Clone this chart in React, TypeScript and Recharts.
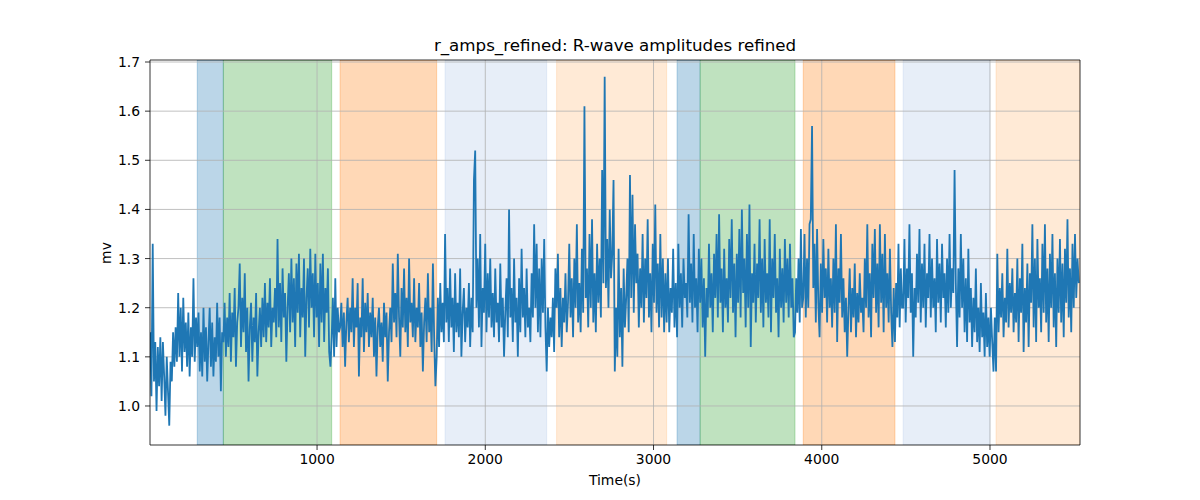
import { CartesianGrid, Line, LineChart, ReferenceArea, XAxis, YAxis } from 'recharts';

// R-wave amplitudes (mV), one list per stretch of the recording
const ampsPre = [1.15, 1.02, 1.33, 1.05, 1.13, 0.99, 1.12, 1.04, 1.14, 1.01, 1.13, 1.06, 0.98, 1.1, 1.03, 0.96, 1.09, 1.05, 1.15, 1.08, 1.16, 1.09, 1.23, 1.1, 1.2, 1.07, 1.22, 1.11, 1.17, 1.08, 1.19, 1.06, 1.16, 1.1, 1.26, 1.09, 1.18];
const ampsBlue1 = [1.12, 1.19, 1.07, 1.15, 1.06, 1.2, 1.09, 1.16, 1.05, 1.13, 1.2, 1.08, 1.17, 1.06, 1.14, 1.09, 1.21, 1.1, 1.18, 1.03, 1.15];
const ampsGreen1 = [
  1.13, 1.21, 1.1, 1.18, 1.12, 1.23, 1.09, 1.19, 1.14, 1.24, 1.08, 1.17, 1.2, 1.29, 1.12, 1.22, 1.15, 1.27, 1.11, 1.2, 1.05, 1.16,
  1.21, 1.09, 1.18, 1.13, 1.23, 1.06, 1.15, 1.2, 1.12, 1.22, 1.14, 1.25, 1.13, 1.21, 1.16, 1.26, 1.12, 1.2, 1.17, 1.24, 1.14, 1.34,
  1.16, 1.25, 1.13, 1.28, 1.18, 1.23, 1.09, 1.2, 1.27, 1.15, 1.3, 1.17, 1.26, 1.12, 1.29, 1.19, 1.31, 1.14, 1.24, 1.18, 1.3, 1.1,
  1.22, 1.28, 1.16, 1.32, 1.2, 1.27, 1.14, 1.31, 1.18, 1.25, 1.12, 1.29, 1.17, 1.31, 1.13, 1.24, 1.19, 1.28, 1.11, 1.08,
];
const ampsGap1 = [1.14, 1.22, 1.1, 1.26, 1.12, 1.2, 1.15];
const ampsOrange1 = [
  1.16, 1.21, 1.12, 1.19, 1.08, 1.17, 1.22, 1.13, 1.2, 1.15, 1.26, 1.12, 1.2, 1.16, 1.25, 1.06, 1.18, 1.14, 1.26, 1.11, 1.21, 1.15,
  1.23, 1.12, 1.19, 1.14, 1.22, 1.1, 1.18, 1.06, 1.16, 1.2, 1.12, 1.17, 1.09, 1.21, 1.14, 1.19, 1.05, 1.15, 1.2, 1.13, 1.29, 1.17,
  1.23, 1.14, 1.31, 1.18, 1.1, 1.24, 1.16, 1.28, 1.15, 1.22, 1.12, 1.3, 1.17, 1.21, 1.14, 1.26, 1.13, 1.2, 1.16, 1.25, 1.12, 1.19,
  1.07, 1.17, 1.22, 1.13, 1.27, 1.15, 1.2, 1.11, 1.29, 1.14, 1.04,
];
const ampsGap2 = [1.1, 1.22, 1.12, 1.25, 1.15, 1.21, 1.13];
const ampsLightBlue1 = [
  1.35, 1.17, 1.24, 1.13, 1.28, 1.16, 1.22, 1.11, 1.27, 1.15, 1.21, 1.14, 1.28, 1.1, 1.19, 1.24, 1.13, 1.2, 1.16, 1.25, 1.12, 1.22,
  1.15, 1.46, 1.52, 1.2, 1.3, 1.16, 1.35, 1.12, 1.24, 1.19, 1.33, 1.15, 1.27, 1.18, 1.3, 1.16, 1.23, 1.14, 1.28, 1.17, 1.21, 1.13,
  1.29, 1.16, 1.22, 1.1, 1.19, 1.26, 1.14, 1.4, 1.18, 1.24, 1.13, 1.3, 1.17, 1.22, 1.1, 1.26, 1.15, 1.32, 1.18, 1.24, 1.14, 1.28,
  1.16, 1.2, 1.13, 1.27, 1.18, 1.37, 1.2, 1.33, 1.15, 1.28, 1.14, 1.3, 1.19, 1.34, 1.16,
];
const ampsGap3 = [1.07, 1.2, 1.12, 1.18, 1.14, 1.22, 1.11, 1.28];
const ampsLightOrange1 = [
  1.2, 1.31, 1.14, 1.24, 1.12, 1.22, 1.17, 1.27, 1.15, 1.21, 1.33, 1.18, 1.26, 1.14, 1.3, 1.2, 1.37, 1.17, 1.25, 1.15, 1.32, 1.19,
  1.61, 1.22, 1.28, 1.16, 1.35, 1.2, 1.38, 1.17, 1.27, 1.15, 1.33, 1.21, 1.3, 1.18, 1.48, 1.25, 1.67, 1.24, 1.34, 1.2, 1.4, 1.26,
  1.31, 1.46, 1.07, 1.2, 1.1, 1.32, 1.14, 1.24, 1.08, 1.28, 1.16, 1.22, 1.3, 1.15, 1.47, 1.22, 1.43, 1.19, 1.37, 1.25, 1.31, 1.16,
  1.28, 1.2, 1.35, 1.17, 1.3, 1.22, 1.38, 1.18, 1.27, 1.15, 1.33, 1.21, 1.41, 1.19, 1.29, 1.16, 1.35, 1.18, 1.3, 1.15, 1.27,
];
const ampsGap4 = [1.17, 1.3, 1.15, 1.24, 1.19, 1.32, 1.16, 1.25];
const ampsBlue2 = [1.14, 1.33, 1.2, 1.27, 1.16, 1.3, 1.22, 1.25, 1.18, 1.39, 1.21, 1.29, 1.17, 1.35, 1.2, 1.26, 1.15, 1.32];
const ampsGreen2 = [
  1.21, 1.3, 1.16, 1.26, 1.1, 1.24, 1.18, 1.33, 1.2, 1.27, 1.15, 1.31, 1.22, 1.35, 1.18, 1.39, 1.21, 1.28, 1.15, 1.32, 1.2, 1.26,
  1.17, 1.34, 1.22, 1.38, 1.19, 1.29, 1.14, 1.31, 1.21, 1.36, 1.18, 1.4, 1.23, 1.3, 1.16, 1.35, 1.2, 1.41, 1.12, 1.27, 1.21, 1.33,
  1.17, 1.29, 1.22, 1.38, 1.19, 1.3, 1.16, 1.34, 1.21, 1.27, 1.18, 1.38, 1.15, 1.3, 1.22, 1.35, 1.19, 1.26, 1.14, 1.32, 1.2, 1.28,
  1.17, 1.34, 1.21, 1.3, 1.18, 1.33, 1.2, 1.26, 1.14,
];
const ampsGap5 = [1.15, 1.26, 1.19, 1.3, 1.17, 1.36, 1.2];
const ampsOrange2 = [
  1.22, 1.35, 1.18, 1.3, 1.2, 1.37, 1.38, 1.57, 1.24, 1.33, 1.17, 1.36, 1.21, 1.14, 1.29, 1.19, 1.34, 1.22, 1.28, 1.17, 1.32, 1.2,
  1.26, 1.16, 1.3, 1.19, 1.37, 1.13, 1.28, 1.21, 1.35, 1.18, 1.26, 1.15, 1.22, 1.1, 1.2, 1.28, 1.15, 1.24, 1.18, 1.29, 1.14, 1.23,
  1.17, 1.27, 1.19, 1.22, 1.15, 1.3, 1.2, 1.37, 1.18, 1.27, 1.14, 1.33, 1.22, 1.36, 1.19, 1.29, 1.16, 1.37, 1.21, 1.31, 1.15, 1.35,
  1.2, 1.27, 1.17, 1.32, 1.19, 1.12, 1.24,
];
const ampsGap6 = [1.13, 1.25, 1.18, 1.33, 1.16, 1.28, 1.2];
const ampsLightBlue2 = [
  1.2, 1.34, 1.17, 1.28, 1.22, 1.37, 1.19, 1.27, 1.1, 1.24, 1.18, 1.31, 1.21, 1.36, 1.17, 1.29, 1.2, 1.33, 1.16, 1.27, 1.22, 1.35,
  1.18, 1.3, 1.2, 1.26, 1.15, 1.34, 1.21, 1.29, 1.17, 1.33, 1.22, 1.27, 1.16, 1.3, 1.19, 1.35, 1.2, 1.28, 1.23, 1.48, 1.25, 1.12,
  1.28, 1.18, 1.35, 1.2, 1.3, 1.15, 1.26, 1.13, 1.32, 1.17, 1.24, 1.12, 1.22, 1.15, 1.28, 1.13, 1.2, 1.11, 1.25, 1.14, 1.19, 1.1,
  1.23, 1.12, 1.18,
];
const ampsGap7 = [1.1, 1.2, 1.13, 1.07, 1.18];
const ampsLightOrange2 = [
  1.07, 1.31, 1.15, 1.24, 1.18, 1.27, 1.14, 1.22, 1.17, 1.32, 1.16, 1.25, 1.19, 1.28, 1.15, 1.23, 1.17, 1.3, 1.13, 1.26, 1.19, 1.33,
  1.11, 1.24, 1.17, 1.29, 1.12, 1.27, 1.21, 1.37, 1.16, 1.3, 1.13, 1.34, 1.2, 1.26, 1.15, 1.33, 1.19, 1.37, 1.17, 1.28, 1.13, 1.31,
  1.2, 1.35, 1.16, 1.27, 1.12, 1.3, 1.19, 1.34, 1.17, 1.29, 1.14, 1.32, 1.21, 1.38, 1.18, 1.28, 1.15, 1.33, 1.2, 1.35, 1.22, 1.3,
  1.25,
];

// where each stretch of samples begins (seconds); the last entry is the end of the recording
const segmentStarts = [8, 288, 443, 1087, 1137, 1711, 1761, 2365, 2424, 3078, 3140, 3277, 3841, 3890, 4435, 4484, 4998, 5036, 5535];
const segmentAmps = [
  ampsPre, ampsBlue1, ampsGreen1, ampsGap1, ampsOrange1, ampsGap2, ampsLightBlue1, ampsGap3, ampsLightOrange1,
  ampsGap4, ampsBlue2, ampsGreen2, ampsGap5, ampsOrange2, ampsGap6, ampsLightBlue2, ampsGap7, ampsLightOrange2,
];

// shaded segments (seconds)
const bandStarts = [288, 443, 1137, 1761, 2424, 3140, 3277, 3890, 4484, 5036];
const bandEnds = [443, 1087, 1711, 2365, 3078, 3277, 3841, 4435, 4998, 5535];
const bandKinds = ['blue', 'green', 'orange', 'lightblue', 'lightorange', 'blue', 'green', 'orange', 'lightblue', 'lightorange'];

const xTicks = [1000, 2000, 3000, 4000, 5000];
const yTicks = [1.0, 1.1, 1.2, 1.3, 1.4, 1.5, 1.6, 1.7];
const X_DOMAIN: [number, number] = [7, 5535];
const Y_DOMAIN: [number, number] = [0.9206, 1.7041];

const bandColors: Record<string, string> = {
  blue: '#1f77b4',
  green: '#2ca02c',
  orange: '#ff7f0e',
  lightblue: '#aec7e8',
  lightorange: '#ffbb78',
};

const data = segmentAmps.flatMap((vals, s) => {
  const start = segmentStarts[s];
  const step = (segmentStarts[s + 1] - start) / vals.length;
  return vals.map((v, i) => ({ t: start + i * step, v }));
});

const FONT = '"DejaVu Sans", sans-serif';
const tickStyle = { fontSize: 13.9, fill: '#000', fontFamily: FONT };

export default function App() {
  return (
    <div style={{ position: 'absolute', left: 0, top: 0, width: 1200, height: 500, background: '#fff', fontFamily: FONT }}>
      <LineChart width={1200} height={500} data={data} margin={{ top: 60, right: 120, bottom: 25, left: 100 }}>
        {bandStarts.map((x1, i) => (
          <ReferenceArea
            key={i}
            x1={x1}
            x2={bandEnds[i]}
            fill={bandColors[bandKinds[i]]}
            fillOpacity={0.3}
            stroke={bandColors[bandKinds[i]]}
            strokeOpacity={0.3}
            ifOverflow="hidden"
            zIndex={-200}
          />
        ))}
        <CartesianGrid stroke="#b0b0b0" strokeWidth={0.8} horizontalValues={yTicks} verticalValues={xTicks} />
        <XAxis
          dataKey="t"
          type="number"
          domain={X_DOMAIN}
          allowDataOverflow
          ticks={xTicks}
          height={30}
          tickSize={5}
          tickMargin={4}
          axisLine={false}
          tickLine={{ stroke: '#000', strokeWidth: 0.8 }}
          tick={tickStyle}
        />
        <YAxis
          type="number"
          domain={Y_DOMAIN}
          allowDataOverflow
          ticks={yTicks}
          tickFormatter={(v: number) => v.toFixed(1)}
          width={50}
          tickSize={5}
          tickMargin={5}
          axisLine={false}
          tickLine={{ stroke: '#000', strokeWidth: 0.8 }}
          tick={tickStyle}
        />
        <Line type="linear" dataKey="v" stroke="#1f77b4" strokeWidth={1.8} dot={false} isAnimationActive={false} />
        <ReferenceArea
          x1={X_DOMAIN[0]}
          x2={X_DOMAIN[1]}
          y1={Y_DOMAIN[0]}
          y2={Y_DOMAIN[1]}
          fill="none"
          stroke="#000"
          strokeWidth={0.8}
          zIndex={900}
        />
      </LineChart>
      <div style={{ position: 'absolute', left: 150, width: 930, top: 35, textAlign: 'center', fontSize: 16.7, lineHeight: '20px' }}>
        r_amps_refined: R-wave amplitudes refined
      </div>
      <div style={{ position: 'absolute', left: 150, width: 930, top: 472, textAlign: 'center', fontSize: 13.9, lineHeight: '17px' }}>
        Time(s)
      </div>
      <div
        style={{
          position: 'absolute',
          left: 106,
          top: 253,
          fontSize: 13.9,
          lineHeight: '17px',
          transform: 'translate(-50%, -50%) rotate(-90deg)',
        }}
      >
        mv
      </div>
    </div>
  );
}
